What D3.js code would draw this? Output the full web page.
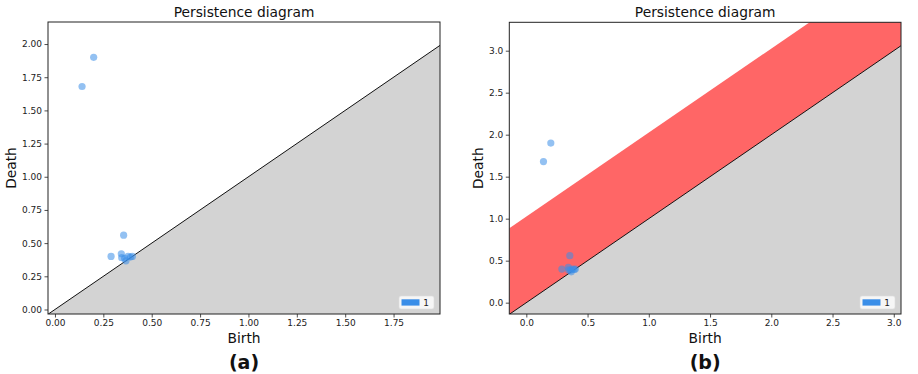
<!DOCTYPE html>
<html>
<head>
<meta charset="utf-8">
<script src="https://cdn.jsdelivr.net/npm/d3@7"></script>
<style>
  html, body { margin: 0; padding: 0; background: #fff; }
  svg { display: block; font-family: "DejaVu Sans", sans-serif; }
</style>
</head>
<body>
<svg id="chart" width="918" height="374"></svg>
<script>
// ---- data ----
const birth = [0.20, 0.14, 0.355, 0.29, 0.343, 0.345, 0.367, 0.378, 0.39, 0.40, 0.36];
const death = [1.90, 1.68, 0.56, 0.40, 0.42, 0.39, 0.367, 0.40, 0.395, 0.40, 0.385];
const legendLabels = ["1"];
const xTicksA = [0, 0.25, 0.5, 0.75, 1.0, 1.25, 1.5, 1.75];
const yTicksA = [0, 0.25, 0.5, 0.75, 1.0, 1.25, 1.5, 1.75, 2.0];
const xTicksB = [0, 0.5, 1.0, 1.5, 2.0, 2.5, 3.0];
const yTicksB = [0, 0.5, 1.0, 1.5, 2.0, 2.5, 3.0];
const xDomainA = [-0.036, 1.99];
const yDomainA = [-0.034, 2.166];
const xDomainB = [-0.139, 3.059];
const yDomainB = [-0.135, 3.338];
const bandWidthB = 1.025;
const panelLabels = ["(a)", "(b)"];

const svg = d3.select("#chart");
const pointColor = "#3a8ee8";

function panel(opts) {
  const { left, right, top, bottom, xDomain, yDomain, xTicks, yTicks, fmt, band, label } = opts;
  const x = d3.scaleLinear().domain(xDomain).range([left, right]);
  const y = d3.scaleLinear().domain(yDomain).range([bottom, top]);
  const g = svg.append("g");
  const clipId = "clip" + label.replace(/\W/g, "");
  g.append("clipPath").attr("id", clipId)
    .append("rect").attr("x", left).attr("y", top).attr("width", right - left).attr("height", bottom - top);
  const inner = g.append("g").attr("clip-path", `url(#${clipId})`);

  const x0 = xDomain[0], x1 = xDomain[1];
  // gray area below the diagonal
  inner.append("path")
    .attr("d", d3.line()([[x(x0), y(x0)], [x(x1), y(x1)], [x(x1), y(yDomain[0])], [x(x0), y(yDomain[0])]]))
    .attr("fill", "#d3d3d3");
  if (band) {
    inner.append("path")
      .attr("d", d3.line()([[x(x0), y(x0)], [x(x1), y(x1)], [x(x1), y(x1 + band)], [x(x0), y(x0 + band)]]))
      .attr("fill", "#ff6666");
  }
  inner.append("line")
    .attr("x1", x(x0)).attr("y1", y(x0)).attr("x2", x(x1)).attr("y2", y(x1))
    .attr("stroke", "#111").attr("stroke-width", 1);

  inner.selectAll("circle").data(birth.map((b, i) => [b, death[i]]))
    .join("circle")
    .attr("cx", d => x(d[0])).attr("cy", d => y(d[1])).attr("r", 3.6)
    .attr("fill", pointColor).attr("fill-opacity", 0.55);

  // axes
  const xAxis = g.append("g").attr("transform", `translate(0,${bottom})`)
    .call(d3.axisBottom(x).tickValues(xTicks).tickFormat(fmt).tickSize(3.5).tickPadding(2.5));
  const yAxis = g.append("g").attr("transform", `translate(${left},0)`)
    .call(d3.axisLeft(y).tickValues(yTicks).tickFormat(fmt).tickSize(3.5).tickPadding(2.5));
  [xAxis, yAxis].forEach(a => {
    a.select(".domain").remove();
    a.selectAll("line").attr("stroke", "#222").attr("stroke-width", 0.8);
    a.selectAll("text").attr("font-size", 9).attr("fill", "#222").attr("font-family", "DejaVu Sans");
  });

  // frame
  g.append("rect").attr("x", left).attr("y", top).attr("width", right - left).attr("height", bottom - top)
    .attr("fill", "none").attr("stroke", "#222").attr("stroke-width", 1);

  // legend
  const lw = 35, lh = 13;
  const lx = right - 6 - lw, ly = bottom - 5 - lh;
  const leg = g.append("g");
  leg.append("rect").attr("x", lx).attr("y", ly).attr("width", lw).attr("height", lh).attr("rx", 2)
    .attr("fill", "#fff").attr("fill-opacity", 0.8).attr("stroke", "#ddd").attr("stroke-opacity", 0.8).attr("stroke-width", 0.8);
  leg.append("rect").attr("x", lx + 2.5).attr("y", ly + 3.3).attr("width", 18).attr("height", 6.3)
    .attr("fill", pointColor);
  leg.append("text").attr("x", lx + 27).attr("y", ly + 10).attr("font-size", 9).attr("fill", "#222")
    .attr("text-anchor", "middle").text(legendLabels[0]);

  const cx = (left + right) / 2;
  g.append("text").attr("x", cx).attr("y", 17).attr("text-anchor", "middle")
    .attr("font-size", 13.8).attr("fill", "#111").text("Persistence diagram");
  g.append("text").attr("x", cx).attr("y", 343).attr("text-anchor", "middle")
    .attr("font-size", 13.8).attr("fill", "#111").text("Birth");
  g.append("text").attr("transform", `translate(${opts.deathX},${(top + bottom) / 2}) rotate(-90)`)
    .attr("text-anchor", "middle").attr("dominant-baseline", "central")
    .attr("font-size", 13.8).attr("fill", "#111").text("Death");
  g.append("text").attr("x", cx).attr("y", 369).attr("text-anchor", "middle")
    .attr("font-size", 19).attr("font-weight", "bold").attr("fill", "#111").text(label);
}

panel({ left: 48, right: 440, top: 22, bottom: 314, xDomain: xDomainA, yDomain: yDomainA,
  xTicks: xTicksA, yTicks: yTicksA, fmt: d3.format(".2f"), band: null, label: panelLabels[0], deathX: 11 });
panel({ left: 509.3, right: 901, top: 22.3, bottom: 314, xDomain: xDomainB, yDomain: yDomainB,
  xTicks: xTicksB, yTicks: yTicksB, fmt: d3.format(".1f"), band: bandWidthB, label: panelLabels[1], deathX: 478 });
</script>
</body>
</html>
